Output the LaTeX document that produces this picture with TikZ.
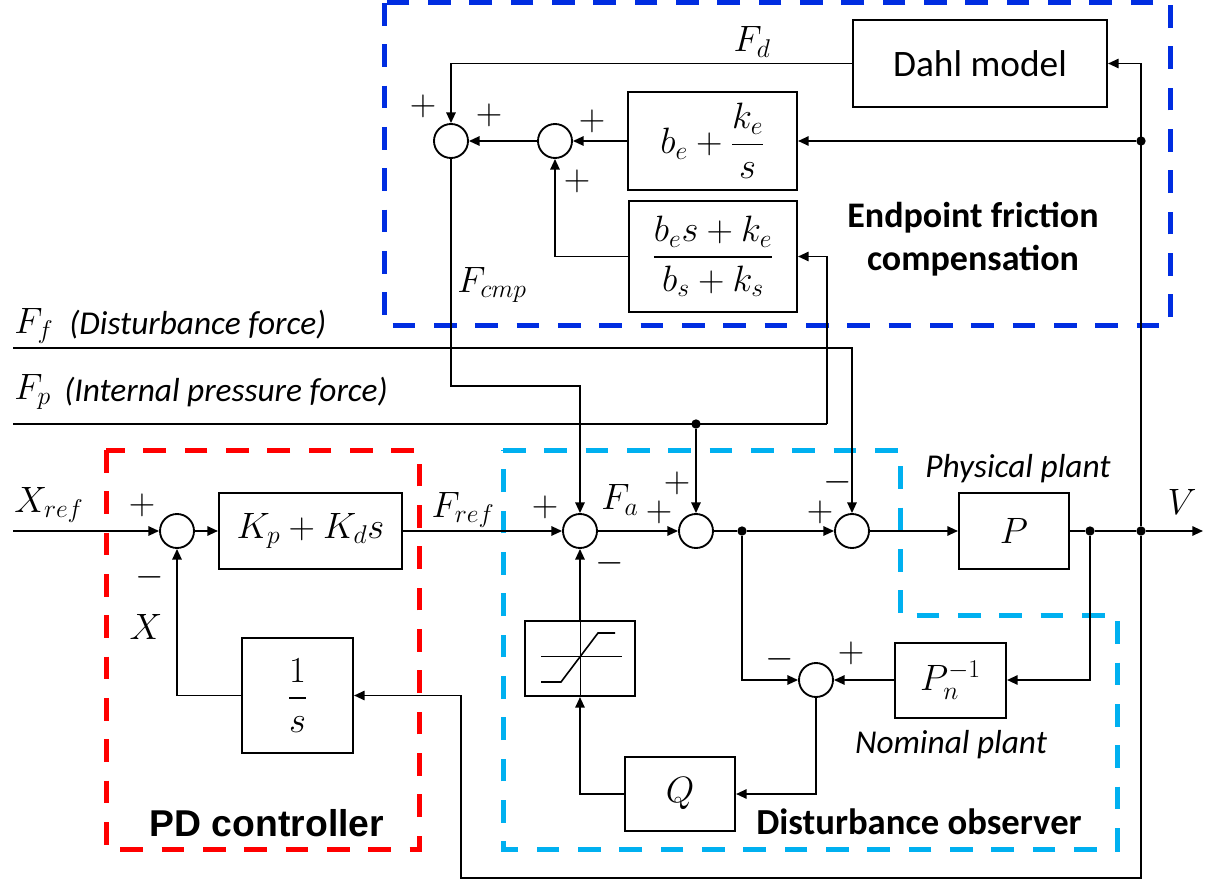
\RequirePackage{fix-cm}
\documentclass[tikz,border=0pt]{standalone}
\usepackage{fontspec}
\usepackage{amsmath}
\usetikzlibrary{arrows.meta}
\newfontfamily\carlito{Carlito}
\newfontfamily\arialsans{Liberation Sans}
\newcommand\mth{\fontsize{27.5}{32}\selectfont}
\definecolor{dblue}{RGB}{0,45,225}
\definecolor{lblue}{RGB}{0,176,240}
\definecolor{dred}{RGB}{255,0,0}
\begin{document}
\begin{tikzpicture}[x=0.75pt,y=-0.75pt,
  blk/.style={draw, line width=1.5pt, inner sep=0pt, fill=white, font=\mth},
  sum/.style={draw, circle, line width=1.4pt, minimum size=25.5pt, inner sep=0pt, fill=white},
  dot/.style={circle, fill, minimum size=7pt, inner sep=0pt},
  arr/.style={-{Triangle[length=8pt,width=7pt]}, line width=1.4pt},
  ln/.style={line width=1.4pt},
  lbl/.style={font=\mth, inner sep=0pt},
  itl/.style={font=\carlito\itshape\fontsize{25}{29}\selectfont, inner sep=0pt},
  grp/.style={line width=3.75pt, dash pattern=on 17pt off 14pt},
]
\useasboundingbox (0,0) rectangle (1218,881);

% group frames
\draw[grp, dblue] (384,3) rectangle (1170,325);
\draw[grp, dred] (106,450) rectangle (419,849);
\draw[grp, lblue] (503,450) -- (900,450) -- (900,615) -- (1117,615) -- (1117,849) -- (503,849) -- cycle;

% blocks
\node[blk, minimum width=190.5pt, minimum height=65.25pt, font=\carlito\fontsize{28}{32}\selectfont] (dahl) at (980,63.5) {Dahl model};
\node[blk, minimum width=126.75pt, minimum height=72.75pt] (be) at (712.5,141) {$b_e+\dfrac{k_e}{s}$};
\node[blk, minimum width=126pt, minimum height=83.25pt] (bes) at (713,256.5) {$\dfrac{b_e s+k_e}{b_s+k_s}$};
\node[blk, minimum width=137.25pt, minimum height=57pt] (kp) at (310.5,531) {$K_p+K_d s$};
\node[blk, minimum width=83.25pt, minimum height=86.25pt] (invs) at (297.5,695.5) {$\dfrac{1}{s}$};
\node[blk, minimum width=82.5pt, minimum height=56.25pt] (sat) at (580,658.5) {};
\node[blk, minimum width=82.5pt, minimum height=55.5pt] (Q) at (680,794) {$Q$};
\node[blk, minimum width=83.25pt, minimum height=56.25pt] (Pn) at (950.5,680) {$P_n^{-1}$};
\node[blk, minimum width=82.5pt, minimum height=57pt] (P) at (1014,531) {$P$};

% saturation glyph
\draw[line width=0.6pt] (580,621) -- (580,696);
\draw[line width=0.6pt] (541,656) -- (622,656);
\draw[line width=1.2pt] (541,682) -- (561,682) -- (598,633) -- (615,633);

% summing junctions
\node[sum] (s1) at (451,141) {};
\node[sum] (s2) at (555,141) {};
\node[sum] (sx) at (177,531) {};
\node[sum] (sA) at (580,531) {};
\node[sum] (sB) at (696,531) {};
\node[sum] (sC) at (852,531) {};
\node[sum] (sD) at (816,680) {};

% branch points
\node[dot] (j1) at (1141,141) {};
\node[dot] (jV) at (1141,531) {};
\node[dot] (jP) at (1090,531) {};
\node[dot] (jB) at (742,531) {};
\node[dot] (jFp) at (696,424) {};

% free ends
\coordinate (xin) at (13,531);
\coordinate (ffin) at (13,348);
\coordinate (fpin) at (13,424);
\coordinate (fpc) at (827,424);
\coordinate (cmp) at (451,386);
\coordinate (b2) at (461,878);
\coordinate (vout) at (1203,531);

% connectors: friction compensation
\draw[arr] (dahl.west) -| (s1.north);
\draw[arr] (s2.west) -- (s1.east);
\draw[arr] (be.west) -- (s2.east);
\draw[arr] (bes.west) -| (s2.south);
\draw[arr] (jV) |- (dahl.east);
\draw[arr] (j1) -- (be.east);
\draw[arr] (s1.south) -- (cmp) -| (sA.north);

% disturbances
\draw[arr] (ffin) -| (sC.north);
\draw[ln] (fpin) -- (fpc);
\draw[arr] (fpc) |- (bes.east);
\draw[arr] (jFp) -- (sB.north);

% main loop
\draw[arr] (xin) -- (sx.west);
\draw[arr] (sx.east) -- (kp.west);
\draw[arr] (kp.east) -- (sA.west);
\draw[arr] (sA.east) -- (sB.west);
\draw[ln] (sB.east) -- (jB);
\draw[arr] (jB) -- (sC.west);
\draw[arr] (sC.east) -- (P.west);
\draw[ln] (P.east) -- (jP) -- (jV);
\draw[arr] (jV) -- (vout);
\draw[arr] (jV) |- (b2) |- (invs.east);
\draw[arr] (invs.west) -| (sx.south);

% disturbance observer
\draw[arr] (jB) |- (sD.west);
\draw[arr] (Pn.west) -- (sD.east);
\draw[arr] (jP) |- (Pn.east);
\draw[arr] (sD.south) |- (Q.east);
\draw[arr] (Q.west) -| (sat.south);
\draw[arr] (sat.north) -- (sA.south);

% signs and labels
\node[lbl] (lFd) at (752,42) {$F_d$};
\node[lbl] (p1) at (423,106) {$+$};
\node[lbl] (p2) at (489,115) {$+$};
\node[lbl] (p3) at (592,121) {$+$};
\node[lbl] (p4) at (577,181) {$+$};
\node[lbl] (lFcmp) at (492,285) {$F_{cmp}$};
\node[lbl, anchor=west] (lFf) at (14,326) {$F_f$};
\node[itl, anchor=west] (tFf) at (69,325) {(Disturbance force)};
\node[lbl, anchor=west] (lFp) at (14,392) {$F_p$};
\node[itl, anchor=west] (tFp) at (64,392) {(Internal pressure force)};
\node[lbl, anchor=west] (lXref) at (14,505) {$X_{ref}$};
\node[lbl] (p5) at (142,505) {$+$};
\node[lbl] (m1) at (150,577) {$-$};
\node[lbl] (lX) at (146,627) {$X$};
\node[lbl] (lFref) at (463,510) {$F_{ref}$};
\node[lbl] (p6) at (545,507) {$+$};
\node[lbl] (m2) at (610,563) {$-$};
\node[lbl] (lFa) at (620,500) {$F_a$};
\node[lbl] (p7) at (659,512) {$+$};
\node[lbl] (p8) at (677,483) {$+$};
\node[lbl] (p9) at (820,512) {$+$};
\node[lbl] (m3) at (838,482) {$-$};
\node[lbl] (m4) at (780,659) {$-$};
\node[lbl] (p10) at (851,653) {$+$};
\node[lbl] (lV) at (1182,502) {$V$};
\node[itl] (tphys) at (1018,469) {Physical plant};
\node[itl] (tnom) at (951,745) {Nominal plant};

% group titles
\node[font=\carlito\bfseries\fontsize{27}{32}\selectfont, align=center] (tEF) at (973,239) {Endpoint friction\\compensation};
\node[font=\arialsans\bfseries\fontsize{28}{32}\selectfont] (tPD) at (267,823) {PD controller};
\node[font=\carlito\bfseries\fontsize{27.5}{32}\selectfont] (tDO) at (919,822) {Disturbance observer};
\end{tikzpicture}
\end{document}
